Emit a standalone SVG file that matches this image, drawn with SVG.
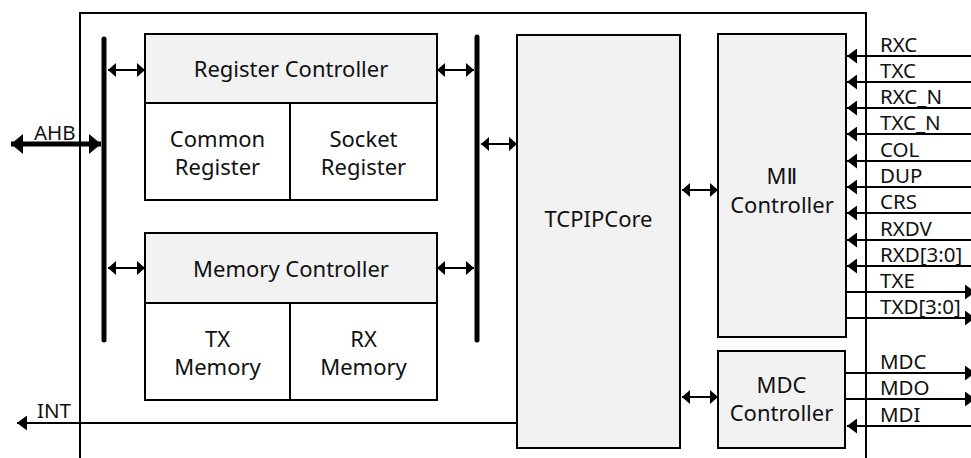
<svg xmlns="http://www.w3.org/2000/svg" width="971" height="458" viewBox="0 0 971 458">
<defs>
<style>
.box{fill:#f2f2f2;stroke:#000;stroke-width:2}
.sub{fill:#fff;stroke:#000;stroke-width:2}
.t{font-family:"Noto Sans","DejaVu Sans",sans-serif;font-size:22px;fill:#111;text-anchor:middle}
.s{font-family:"Noto Sans","DejaVu Sans",sans-serif;font-size:20.5px;fill:#111}
.bus{stroke:#000;stroke-width:5;stroke-linecap:round;fill:none}
.da{stroke:#000;stroke-width:2;fill:none;marker-start:url(#sm);marker-end:url(#sm)}
.in{stroke:#000;stroke-width:2;fill:none;marker-end:url(#sig)}
.out{stroke:#000;stroke-width:2;fill:none;marker-end:url(#sig)}
</style>
<marker id="sm" viewBox="0 0 8 14" refX="8" refY="7" markerWidth="8" markerHeight="14" markerUnits="userSpaceOnUse" orient="auto-start-reverse"><path d="M0,0 L8,7 L0,14 z" fill="#000"/></marker>
<marker id="sig" viewBox="0 0 10 15" refX="10" refY="7.5" markerWidth="10" markerHeight="15" markerUnits="userSpaceOnUse" orient="auto"><path d="M0,0 L10,7.5 L0,15 z" fill="#000"/></marker>
<marker id="big" viewBox="0 0 12 20" refX="12" refY="10" markerWidth="12" markerHeight="20" markerUnits="userSpaceOnUse" orient="auto-start-reverse"><path d="M0,0 L12,10 L0,20 z" fill="#000"/></marker>
</defs>
<rect width="971" height="458" fill="#fff"/>
<g id="chip"><path d="M80,458 V13 H866 V458" fill="none" stroke="#000" stroke-width="2"/></g>
<g id="connectors">
<line class="bus" x1="104" y1="39" x2="104" y2="340"/>
<line class="bus" x1="477" y1="37" x2="477" y2="340"/>
<line x1="11" y1="144" x2="101" y2="144" stroke="#000" stroke-width="5" marker-start="url(#big)" marker-end="url(#big)"/>
<line class="da" x1="108" y1="70" x2="145" y2="70"/>
<line class="da" x1="437" y1="70" x2="474" y2="70"/>
<line class="da" x1="481" y1="144" x2="517" y2="144"/>
<line class="da" x1="108" y1="268" x2="145" y2="268"/>
<line class="da" x1="437" y1="268" x2="474" y2="268"/>
<line class="da" x1="682" y1="190" x2="718" y2="190"/>
<line class="da" x1="682" y1="397" x2="718" y2="397"/>
<line class="in" x1="517" y1="423" x2="17" y2="423"/>
<line class="in" x1="971" y1="56" x2="847" y2="56"/>
<line class="in" x1="971" y1="82" x2="847" y2="82"/>
<line class="in" x1="971" y1="108" x2="847" y2="108"/>
<line class="in" x1="971" y1="134" x2="847" y2="134"/>
<line class="in" x1="971" y1="161" x2="847" y2="161"/>
<line class="in" x1="971" y1="187" x2="847" y2="187"/>
<line class="in" x1="971" y1="213" x2="847" y2="213"/>
<line class="in" x1="971" y1="240" x2="847" y2="240"/>
<line class="in" x1="971" y1="266" x2="847" y2="266"/>
<line class="out" x1="846" y1="292" x2="975" y2="292"/>
<line class="out" x1="846" y1="318" x2="975" y2="318"/>
<line class="out" x1="846" y1="373" x2="975" y2="373"/>
<line class="out" x1="846" y1="399" x2="975" y2="399"/>
<line class="in" x1="971" y1="426" x2="847" y2="426"/>
</g>
<g id="labels">
<text class="s" x="34" y="140">AHB</text>
<text class="s" x="37" y="418">INT</text>
<text class="s" x="880" y="52">RXC</text>
<text class="s" x="880" y="78">TXC</text>
<text class="s" x="880" y="104">RXC_N</text>
<text class="s" x="880" y="130">TXC_N</text>
<text class="s" x="880" y="157">COL</text>
<text class="s" x="880" y="183">DUP</text>
<text class="s" x="880" y="209">CRS</text>
<text class="s" x="880" y="236">RXDV</text>
<text class="s" x="880" y="262">RXD[3:0]</text>
<text class="s" x="880" y="288">TXE</text>
<text class="s" x="880" y="314">TXD[3:0]</text>
<text class="s" x="880" y="369">MDC</text>
<text class="s" x="880" y="395">MDO</text>
<text class="s" x="880" y="422">MDI</text>
</g>
<g id="register-controller">
<rect class="box" x="145" y="34" width="292" height="69"/>
<text class="t" x="291" y="77">Register Controller</text>
</g>
<g id="common-register">
<rect class="sub" x="145" y="103" width="145" height="97"/>
<text class="t" x="217.5" y="147">Common</text>
<text class="t" x="217.5" y="175">Register</text>
</g>
<g id="socket-register">
<rect class="sub" x="290" y="103" width="147" height="97"/>
<text class="t" x="363.5" y="147">Socket</text>
<text class="t" x="363.5" y="175">Register</text>
</g>
<g id="memory-controller">
<rect class="box" x="145" y="233" width="292" height="70"/>
<text class="t" x="291" y="277">Memory Controller</text>
</g>
<g id="tx-memory">
<rect class="sub" x="145" y="303" width="145" height="97"/>
<text class="t" x="217.5" y="347">TX</text>
<text class="t" x="217.5" y="375">Memory</text>
</g>
<g id="rx-memory">
<rect class="sub" x="290" y="303" width="147" height="97"/>
<text class="t" x="363.5" y="347">RX</text>
<text class="t" x="363.5" y="375">Memory</text>
</g>
<g id="tcpipcore">
<rect class="box" x="517" y="35" width="163" height="413"/>
<text class="t" x="598.5" y="227">TCPIPCore</text>
</g>
<g id="mii-controller">
<rect class="box" x="718" y="34" width="128" height="303"/>
<text class="t" x="782" y="184">MⅡ</text>
<text class="t" x="782" y="213">Controller</text>
</g>
<g id="mdc-controller">
<rect class="box" x="718" y="351" width="127" height="97"/>
<text class="t" x="781.5" y="393">MDC</text>
<text class="t" x="781.5" y="421">Controller</text>
</g>
</svg>
